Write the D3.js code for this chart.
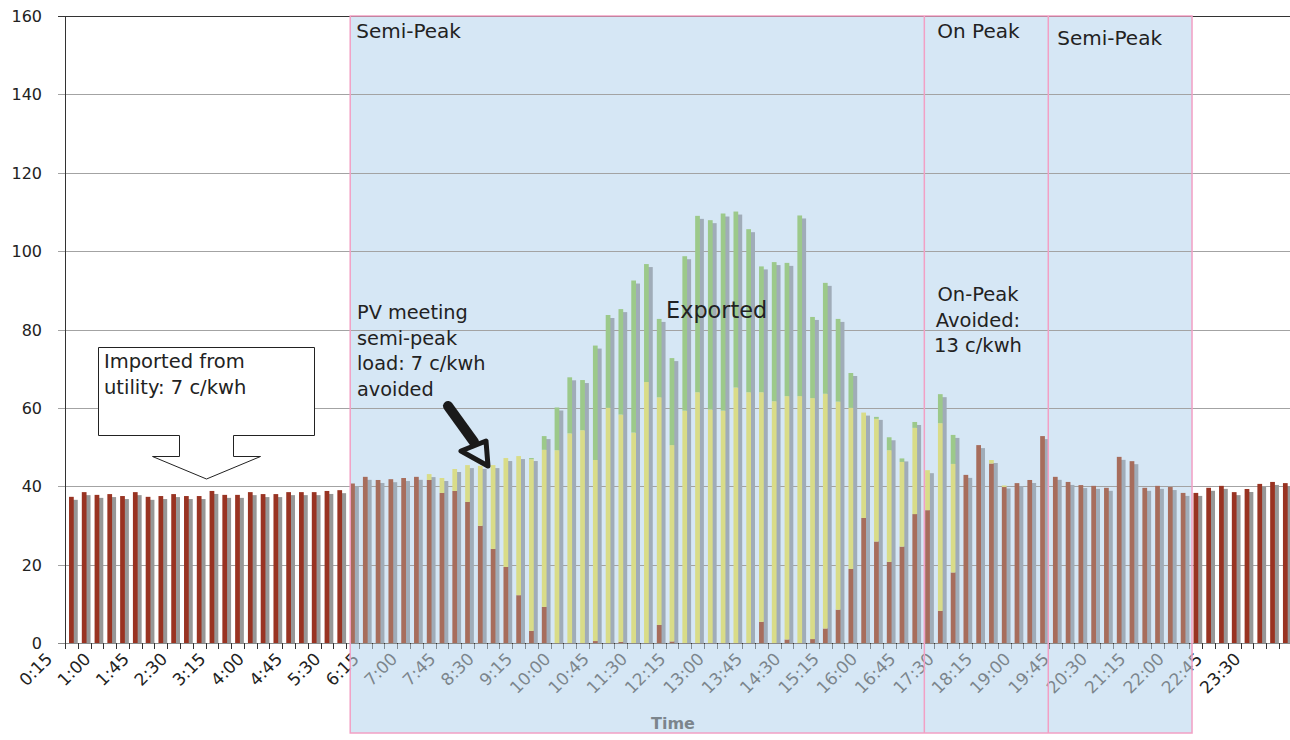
<!DOCTYPE html>
<html>
<head>
<meta charset="utf-8">
<script src="https://cdn.jsdelivr.net/npm/d3@7"></script>
<style>
  body { margin: 0; background: #fff; }
  svg { display: block; font-family: "DejaVu Sans", Verdana, sans-serif; }
</style>
</head>
<body>
<div id="chart"></div>
<script>
const times = [
  '0:15','0:30','0:45','1:00','1:15','1:30','1:45','2:00','2:15','2:30','2:45','3:00',
  '3:15','3:30','3:45','4:00','4:15','4:30','4:45','5:00','5:15','5:30','5:45','6:00',
  '6:15','6:30','6:45','7:00','7:15','7:30','7:45','8:00','8:15','8:30','8:45','9:00',
  '9:15','9:30','9:45','10:00','10:15','10:30','10:45','11:00','11:15','11:30','11:45','12:00',
  '12:15','12:30','12:45','13:00','13:15','13:30','13:45','14:00','14:15','14:30','14:45','15:00',
  '15:15','15:30','15:45','16:00','16:15','16:30','16:45','17:00','17:15','17:30','17:45','18:00',
  '18:15','18:30','18:45','19:00','19:15','19:30','19:45','20:00','20:15','20:30','20:45','21:00',
  '21:15','21:30','21:45','22:00','22:15','22:30','22:45','23:00','23:15','23:30','23:45','24:00'
];
const tickLabels = [
  '0:15','1:00','1:45','2:30','3:15','4:00','4:45','5:30','6:15','7:00','7:45','8:30',
  '9:15','10:00','10:45','11:30','12:15','13:00','13:45','14:30','15:15','16:00','16:45','17:30',
  '18:15','19:00','19:45','20:30','21:15','22:00','22:45','23:30'
];
const yTicks = [0, 20, 40, 60, 80, 100, 120, 140, 160];

// imported from utility
const imported = [
  37.3,38.5,37.8,38.0,37.5,38.5,37.3,37.5,38.0,37.5,
  37.5,38.8,37.8,37.8,38.5,38.0,38.0,38.5,38.5,38.5,
  38.8,39.0,40.7,42.4,41.6,41.8,42.1,42.4,41.6,38.3,
  38.8,36.0,29.9,24.0,19.4,12.2,3.1,9.2,0,0,
  0,0.5,0,0.3,0,0,4.6,0.4,0,0,
  0,0,0,0,5.4,0,0.9,0,1.0,3.7,
  8.5,18.9,31.9,25.9,20.7,24.6,32.9,33.9,8.2,18.0,
  42.9,50.5,45.8,39.8,40.8,41.6,52.8,42.4,41.1,40.3,
  40.1,39.6,47.5,46.4,39.6,40.1,39.8,38.3,38.3,39.6,
  40.1,38.5,39.3,40.6,41.1,40.8
];
// PV meeting load
const pvToLoad = [
  0,0,0,0,0,0,0,0,0,0,
  0,0,0,0,0,0,0,0,0,0,
  0,0,0,0,0,0,0,0,1.5,3.8,
  5.6,9.4,15.3,21.4,27.8,35.5,43.8,40.1,49.2,53.5,
  54.3,46.2,60.0,58.0,53.7,66.6,58.1,50.1,59.3,64.0,
  59.6,59.3,65.2,64.0,58.6,61.7,62.1,63.0,61.5,59.9,
  53.1,41.1,26.9,31.3,28.5,21.6,22.0,10.2,47.9,27.7,
  0,0,0.9,0.4,0,0,0,0,0,0,
  0,0,0,0,0,0,0,0,0,0,
  0,0,0,0,0,0
];
// exported to grid
const exported = [
  0,0,0,0,0,0,0,0,0,0,
  0,0,0,0,0,0,0,0,0,0,
  0,0,0,0,0,0,0,0,0,0,
  0,0,0,0,0,0,0.3,3.5,10.9,14.3,
  12.8,29.2,23.7,26.9,38.8,30.1,20.0,22.2,39.4,45.0,
  48.3,50.3,44.9,41.6,32.1,35.5,34.0,46.1,20.7,28.3,
  21.1,8.9,0,0.5,3.3,0.9,1.5,0,7.4,7.4,
  0,0,0,0,0,0,0,0,0,0,
  0,0,0,0,0,0,0,0,0,0,
  0,0,0,0,0,0
];

// tariff period boundaries, in category units
const periodEdges = [22.32, 67.25, 76.95, 88.2];
const periodNames = ['Semi-Peak', 'On Peak', 'Semi-Peak'];

const W = 1290, H = 740;
const margin = { top: 16, left: 65, bottom: 97 };
const plotRight = 1291.7;

const svg = d3.select('#chart').append('svg')
  .attr('width', W).attr('height', H);

const x = d3.scaleBand()
  .domain(d3.range(times.length))
  .range([margin.left, plotRight])
  .paddingInner(0).paddingOuter(0);
const bw = x.bandwidth();
const xc = v => margin.left + v * bw;   // category units -> px

const y = d3.scaleLinear().domain([0, 160]).range([H - margin.bottom, margin.top]);

const inShade = i => i >= 22 && i <= 87;

// shaded tariff window
svg.append('rect')
  .attr('x', xc(periodEdges[0])).attr('y', margin.top)
  .attr('width', xc(periodEdges[3]) - xc(periodEdges[0]))
  .attr('height', 733 - margin.top)
  .attr('fill', '#d6e7f5');

// gridlines
svg.append('g').selectAll('line').data(yTicks).join('line')
  .attr('x1', 58).attr('x2', W)
  .attr('y1', d => Math.round(y(d)) + 0.5).attr('y2', d => Math.round(y(d)) + 0.5)
  .attr('stroke', d => d === 160 ? '#333' : '#a3a3a3')
  .attr('stroke-width', 1);

// stacked bars
const stackData = times.map((t, i) => ({ i, imp: imported[i], pv: pvToLoad[i], exp: exported[i] }));
const barW = bw * 0.37;
const bx = i => x(i) + (bw - barW) / 2;

// drop shadow
svg.append('g').selectAll('rect').data(stackData).join('rect')
  .attr('x', d => bx(d.i) + 4)
  .attr('y', d => y(d.imp + d.pv + d.exp) + 3)
  .attr('width', barW)
  .attr('height', d => y(0) - y(d.imp + d.pv + d.exp) - 3)
  .attr('fill', d => inShade(d.i) ? '#a0acb8' : '#979797');

const series = d3.stack().keys(['imp', 'pv', 'exp'])(stackData);
const colors = {
  imp: ['#993322', '#a76d5c'],
  pv: ['#dcdc7c', '#d9dc88'],
  exp: ['#9acb84', '#9cc98a']
};
svg.append('g').selectAll('g').data(series).join('g')
  .selectAll('rect').data(s => s.map(p => ({ key: s.key, p }))).join('rect')
  .attr('x', d => bx(d.p.data.i))
  .attr('y', d => y(d.p[1]))
  .attr('width', barW)
  .attr('height', d => y(d.p[0]) - y(d.p[1]))
  .attr('fill', d => colors[d.key][inShade(d.p.data.i) ? 1 : 0]);

// axes
svg.append('line')
  .attr('x1', margin.left + 0.5).attr('x2', margin.left + 0.5)
  .attr('y1', margin.top).attr('y2', y(0))
  .attr('stroke', '#333');
svg.append('line')
  .attr('x1', 58).attr('x2', W)
  .attr('y1', y(0) + 0.5).attr('y2', y(0) + 0.5)
  .attr('stroke', '#8a8a8a');
svg.append('g').selectAll('line').data(d3.range(times.length + 1)).join('line')
  .attr('x1', d => Math.round(xc(d)) + 0.5).attr('x2', d => Math.round(xc(d)) + 0.5)
  .attr('y1', y(0)).attr('y2', y(0) + 6)
  .attr('stroke', '#333');

svg.append('g').selectAll('text').data(yTicks).join('text')
  .attr('x', 42).attr('y', d => y(d) + 6)
  .attr('text-anchor', 'end')
  .attr('font-size', 16).attr('fill', '#222')
  .text(d => d);

svg.append('g').selectAll('text').data(tickLabels).join('text')
  .attr('text-anchor', 'end')
  .attr('font-size', 17).attr('fill', '#222')
  .attr('transform', d => {
    const cx = x(times.indexOf(d)) + bw / 2;
    return `translate(${cx - 18},${y(0) + 17}) rotate(-45)`;
  })
  .text(d => d);

svg.append('text')
  .attr('x', 673).attr('y', 729)
  .attr('text-anchor', 'middle')
  .attr('font-size', 16).attr('font-weight', 'bold').attr('fill', '#222')
  .text('Time');

// translucent veil over the axis labels inside the window
svg.append('rect')
  .attr('x', xc(periodEdges[0])).attr('y', y(0) + 1)
  .attr('width', xc(periodEdges[3]) - xc(periodEdges[0]))
  .attr('height', 733 - y(0) - 1)
  .attr('fill', '#d6e7f5').attr('opacity', 0.5);

// period borders
svg.append('rect')
  .attr('x', xc(periodEdges[0])).attr('y', margin.top)
  .attr('width', xc(periodEdges[3]) - xc(periodEdges[0]))
  .attr('height', 733 - margin.top)
  .attr('fill', 'none').attr('stroke', '#f2a0c4').attr('stroke-width', 1.5);
svg.append('g').selectAll('line').data(periodEdges.slice(1, 3)).join('line')
  .attr('x1', d => xc(d)).attr('x2', d => xc(d))
  .attr('y1', margin.top).attr('y2', 733)
  .attr('stroke', '#f2a0c4').attr('stroke-width', 1.5);

// period names
svg.append('g').selectAll('text').data(periodNames).join('text')
  .attr('x', (d, i) => xc(periodEdges[i]) + [6, 13, 9][i])
  .attr('y', (d, i) => [38, 38, 45][i])
  .attr('font-size', 20).attr('fill', '#222')
  .text(d => d);

// annotations
function lines(xp, y0, dy, arr, anchor, size) {
  svg.append('g').selectAll('text').data(arr).join('text')
    .attr('x', xp).attr('y', (d, i) => y0 + i * dy)
    .attr('text-anchor', anchor)
    .attr('font-size', size).attr('fill', '#222')
    .text(d => d);
}
lines(357, 319, 25.6, ['PV meeting', 'semi-peak', 'load: 7 c/kwh', 'avoided'], 'start', 19.3);
lines(978, 301, 25.6, ['On-Peak', 'Avoided:', '13 c/kwh'], 'middle', 19.5);
lines(666, 318, 0, ['Exported'], 'start', 22.4);

// callout box with down arrow
svg.append('path')
  .attr('d', 'M98.5,347.5 H314.5 V435.5 H233.5 V456.5 H260.5 L206.5,479 L152.5,456.5 H179.5 V435.5 H98.5 Z')
  .attr('fill', '#fff').attr('stroke', '#222').attr('stroke-width', 1);
lines(104, 368, 25.6, ['Imported from', 'utility:  7 c/kwh'], 'start', 19.5);

// thick black arrow
svg.append('line')
  .attr('x1', 448).attr('y1', 406).attr('x2', 474).attr('y2', 442)
  .attr('stroke', '#1a1a1a').attr('stroke-width', 10).attr('stroke-linecap', 'round');
svg.append('path')
  .attr('d', 'M461,451 L486,441 L488,466 Z')
  .attr('fill', 'none').attr('stroke', '#1a1a1a').attr('stroke-width', 5)
  .attr('stroke-linejoin', 'round');
</script>
</body>
</html>
